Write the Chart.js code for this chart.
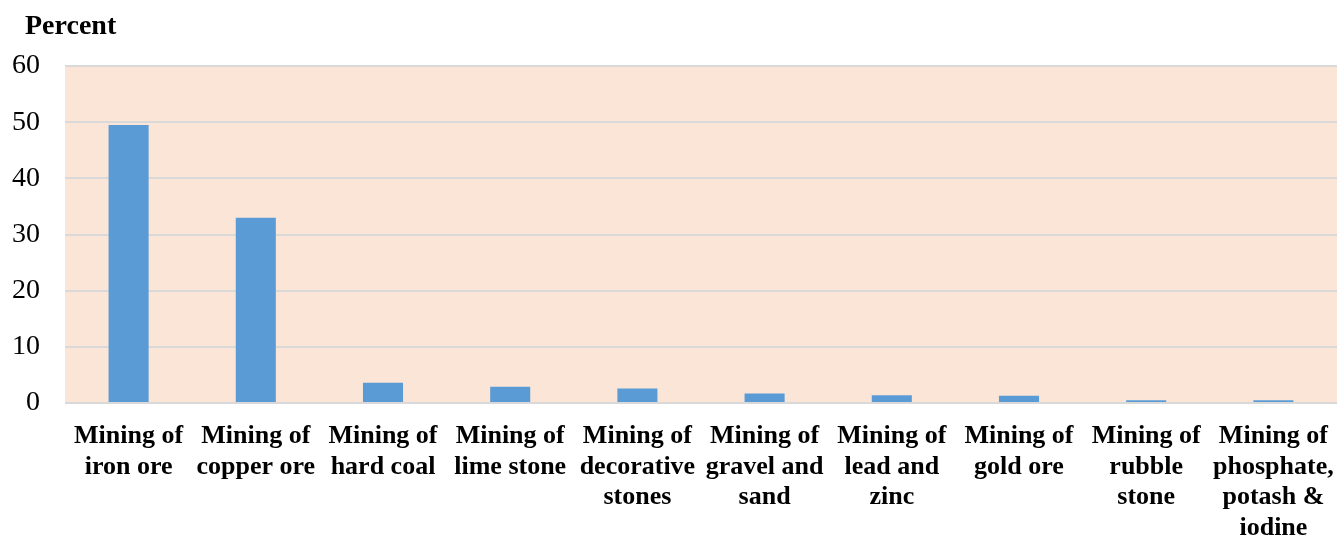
<!DOCTYPE html>
<html>
<head>
<meta charset="utf-8">
<script src="https://cdn.jsdelivr.net/npm/chart.js@4.4.0/dist/chart.umd.min.js"></script>
<style>
  html, body { margin: 0; padding: 0; background: #fff; }
</style>
</head>
<body>
<canvas id="chart" width="1337" height="540"></canvas>
<script>
// === Data ===
const categories = [
  ["Mining of", "iron ore"],
  ["Mining of", "copper ore"],
  ["Mining of", "hard coal"],
  ["Mining of", "lime stone"],
  ["Mining of", "decorative", "stones"],
  ["Mining of", "gravel and", "sand"],
  ["Mining of", "lead and", "zinc"],
  ["Mining of", "gold ore"],
  ["Mining of", "rubble", "stone"],
  ["Mining of", "phosphate,", "potash &", "iodine"]
];
const percentValues = [49.5, 33.0, 3.6, 2.9, 2.6, 1.7, 1.4, 1.3, 0.5, 0.5];
const yTicks = [0, 10, 20, 30, 40, 50, 60];

const serif = '"Liberation Serif", "Times New Roman", serif';

// === Plugins: plot background + "Percent" label ===
const plotBackground = {
  id: 'plotBackground',
  beforeDraw(chart) {
    const { ctx, chartArea: a } = chart;
    ctx.save();
    ctx.fillStyle = '#fbe5d6';
    ctx.fillRect(a.left, a.top, a.right - a.left, a.bottom - a.top);
    ctx.restore();
  }
};

const unitLabel = {
  id: 'unitLabel',
  afterDraw(chart) {
    const ctx = chart.ctx;
    ctx.save();
    ctx.font = 'bold 28px ' + serif;
    ctx.fillStyle = '#000';
    ctx.textBaseline = 'alphabetic';
    ctx.fillText('Percent', 25, 34);
    ctx.restore();
  }
};

new Chart(document.getElementById('chart').getContext('2d'), {
  type: 'bar',
  data: {
    labels: categories,
    datasets: [{
      data: percentValues,
      backgroundColor: '#5b9bd5',
      borderWidth: 0,
      barPercentage: 0.315,
      categoryPercentage: 1
    }]
  },
  options: {
    responsive: false,
    animation: false,
    layout: { padding: { top: 66, left: 0, right: 0, bottom: 0 } },
    plugins: {
      legend: { display: false },
      tooltip: { enabled: false }
    },
    scales: {
      x: {
        afterFit(scale) {
          scale.height = 137;
          scale.paddingLeft = 0;
          scale.paddingRight = 0;
        },
        grid: { display: false, drawTicks: false },
        border: { display: false },
        ticks: {
          autoSkip: false,
          maxRotation: 0,
          minRotation: 0,
          padding: 18,
          color: '#000',
          font: { family: serif, size: 26, weight: 'bold', lineHeight: 1.18 }
        }
      },
      y: {
        min: 0,
        max: 60,
        afterFit(scale) { scale.width = 65; },
        afterBuildTicks(scale) { scale.ticks = yTicks.map(v => ({ value: v })); },
        grid: { color: '#d9d9d9', lineWidth: 2, drawTicks: false },
        border: { display: false },
        ticks: {
          padding: 25,
          color: '#000',
          font: { family: serif, size: 28 }
        }
      }
    }
  },
  plugins: [plotBackground, unitLabel]
});
</script>
</body>
</html>
